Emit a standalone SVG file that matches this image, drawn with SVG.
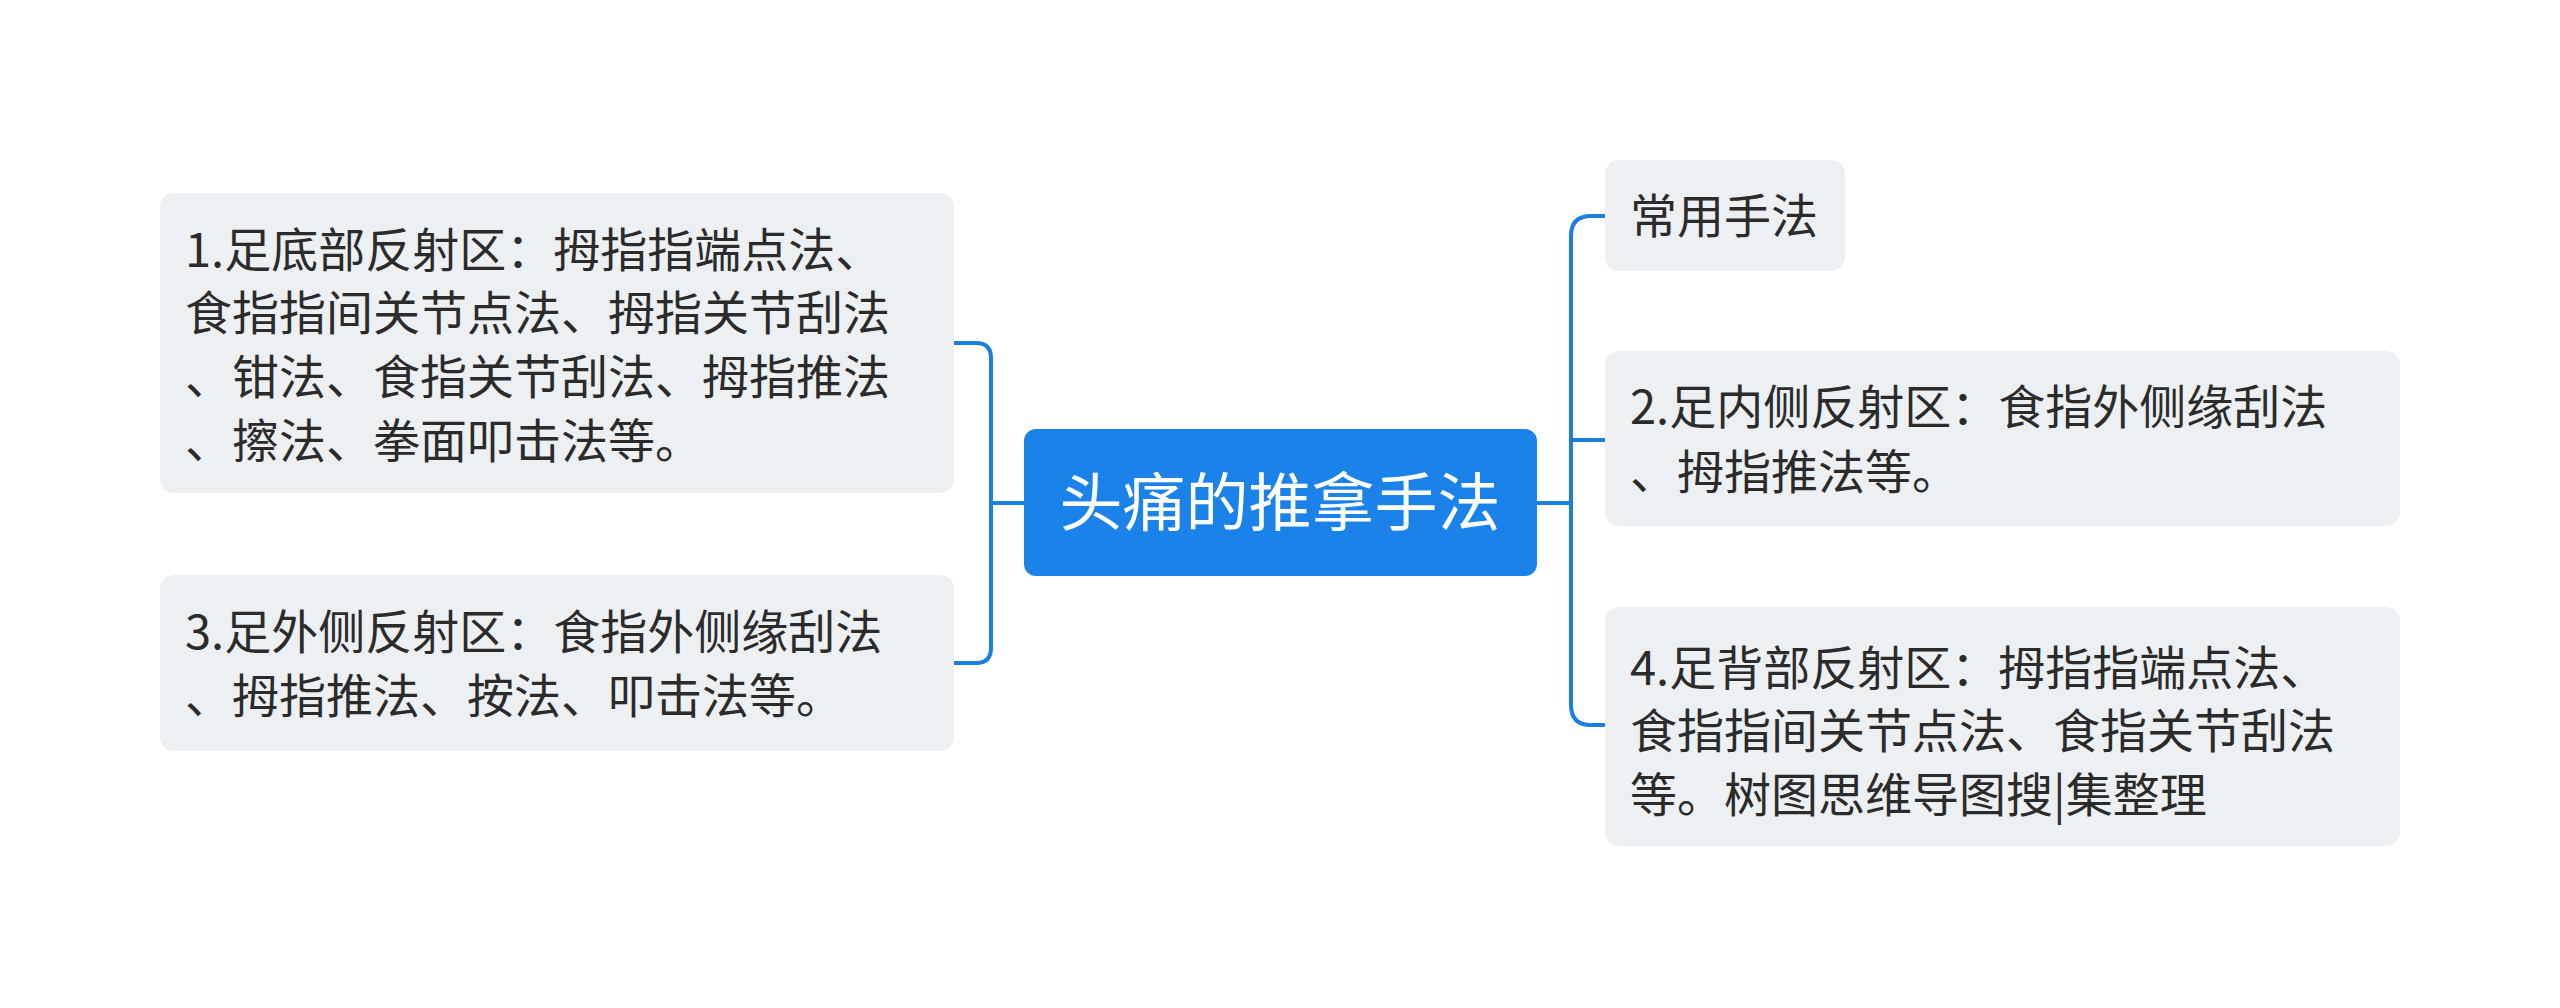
<svg xmlns="http://www.w3.org/2000/svg" width="2560" height="1008" viewBox="0 0 2560 1008">
<style>
.n{fill:#edf0f3}
.t{font-family:"Noto Sans CJK SC","Noto Sans",sans-serif;font-size:47px;fill:#2b2b2b}
.c{fill:none;stroke:#1a7fe0;stroke-width:4;stroke-linecap:round}
</style>
<rect width="2560" height="1008" fill="#fff"/>
<g id="connectors">
<path class="c" d="M1024 503H991M954 343H976Q991 343 991 358V648Q991 663 976 663H954"/>
<path class="c" d="M1537 503H1571M1605 216H1591Q1571 216 1571 236V705Q1571 725 1591 725H1605M1571 440Q1571 440 1591 440H1605"/>
</g>
<g id="center"><rect x="1024" y="429" width="513" height="147" rx="12" fill="#1a82e8"/>
<text x="1280" y="525" text-anchor="middle" style="font-family:'Noto Sans CJK SC',sans-serif;font-size:63px;fill:#fff">头痛的推拿手法</text></g>
<g id="n1"><rect class="n" x="160" y="193" width="794" height="300" rx="14"/>
<text class="t" x="185" y="267">1.足底部反射区：拇指指端点法、</text>
<text class="t" x="185" y="330">食指指间关节点法、拇指关节刮法</text>
<text class="t" x="185" y="394">、钳法、食指关节刮法、拇指推法</text>
<text class="t" x="185" y="458">、擦法、拳面叩击法等。</text></g>
<g id="n3"><rect class="n" x="160" y="575" width="794" height="176" rx="14"/>
<text class="t" x="185" y="649">3.足外侧反射区：食指外侧缘刮法</text>
<text class="t" x="185" y="713">、拇指推法、按法、叩击法等。</text></g>
<g id="r1"><rect class="n" x="1605" y="160" width="240" height="111" rx="14"/>
<text class="t" x="1630" y="233">常用手法</text></g>
<g id="n2"><rect class="n" x="1605" y="351" width="795" height="175" rx="14"/>
<text class="t" x="1630" y="424">2.足内侧反射区：食指外侧缘刮法</text>
<text class="t" x="1630" y="489">、拇指推法等。</text></g>
<g id="n4"><rect class="n" x="1605" y="607" width="795" height="239" rx="14"/>
<text class="t" x="1630" y="685">4.足背部反射区：拇指指端点法、</text>
<text class="t" x="1630" y="748">食指指间关节点法、食指关节刮法</text>
<text class="t" x="1630" y="812">等。树图思维导图搜|集整理</text></g>
</svg>
